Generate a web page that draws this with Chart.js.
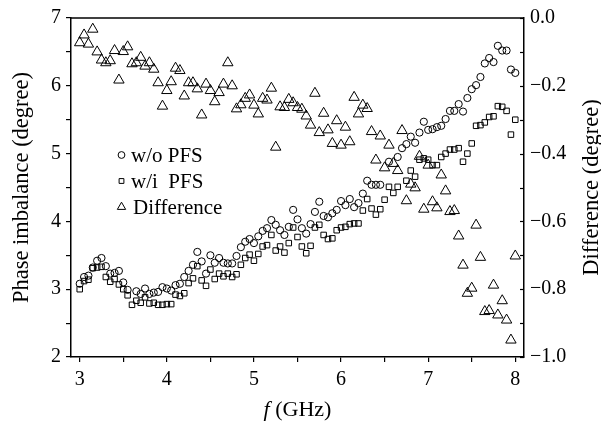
<!DOCTYPE html>
<html>
<head>
<meta charset="utf-8">
<script src="https://cdn.jsdelivr.net/npm/chart.js@4.4.0/dist/chart.umd.min.js"></script>
<style>
  html, body { margin: 0; padding: 0; background: #fff; }
  #wrap { width: 601px; height: 425px; }
</style>
</head>
<body>
<div id="wrap"><canvas id="myChart" width="601" height="425"></canvas></div>
<script>
// frequency grid (GHz)
const freq = [
  3.00, 3.05, 3.10, 3.15, 3.20, 3.25, 3.30, 3.35, 3.40, 3.45,
  3.50, 3.55, 3.60, 3.65, 3.70, 3.75, 3.80, 3.85, 3.90, 3.95,
  4.00, 4.05, 4.10, 4.15, 4.20, 4.25, 4.30, 4.35, 4.40, 4.45,
  4.50, 4.55, 4.60, 4.65, 4.70, 4.75, 4.80, 4.85, 4.90, 4.95,
  5.00, 5.05, 5.10, 5.15, 5.20, 5.25, 5.30, 5.35, 5.40, 5.45,
  5.50, 5.55, 5.60, 5.65, 5.70, 5.75, 5.80, 5.85, 5.90, 5.95,
  6.00, 6.05, 6.10, 6.15, 6.20, 6.25, 6.30, 6.35, 6.40, 6.45,
  6.50, 6.55, 6.60, 6.65, 6.70, 6.75, 6.80, 6.85, 6.90, 6.95,
  7.00, 7.05, 7.10, 7.15, 7.20, 7.25, 7.30, 7.35, 7.40, 7.45,
  7.50, 7.55, 7.60, 7.65, 7.70, 7.75, 7.80, 7.85, 7.90, 7.95, 8.00
];

// phase imbalance without PFS (degree)
const woPFS = [
  3.08, 3.18, 3.20, 3.32, 3.42, 3.46, 3.34, 3.23, 3.24, 3.27,
  3.10, 2.99, null, 2.97, 2.93, 3.01, 2.93, 2.95, 2.96, 3.03,
  3.01, 2.98, 3.06, 3.08, 3.18, 3.27, 3.36, 3.55, 3.41, 3.23,
  3.50, 3.39, 3.46, 3.39, 3.38, 3.38, 3.49, 3.62, 3.70, 3.74,
  3.68, 3.78, 3.86, 3.90, 4.02, 3.95, 3.87, 3.80, 3.92, 4.17,
  4.03, 3.90, 3.82, 3.96, 4.14, 4.29, 4.08, 4.06, 4.12, 4.17,
  4.30, 4.24, 4.33, 4.21, 4.27, 4.41, 4.60, 4.54, 4.54, 4.54,
  null, 4.88, null, 4.95, 5.08, 5.14, 5.25, 5.16, 5.31, 5.47,
  5.35, 5.36, 5.39, 5.41, 5.51, 5.63, 5.63, 5.73, 5.62, 5.82,
  5.95, 6.01, 6.13, 6.33, 6.41, 6.35, 6.59, 6.52, 6.52, 6.24, 6.19
];

// phase imbalance with PFS (degree)
const wiPFS = [
  3.00, 3.12, 3.14, 3.31, 3.32, 3.33, 3.18, 3.11, 3.15, 3.07,
  3.00, 2.91, 2.77, 2.83, 2.80, 2.88, 2.79, 2.80, 2.77, 2.77,
  2.78, 2.78, 2.92, 2.90, 2.94, 3.09, 3.16, 3.34, 3.13, 3.05,
  3.29, 3.15, 3.23, 3.19, 3.23, 3.18, 3.22, 3.36, 3.46, 3.51,
  3.42, 3.52, 3.63, 3.65, 3.80, 3.57, 3.63, 3.54, 3.68, 3.91,
  3.77, 3.63, 3.53, 3.64, 3.91, 3.95, 3.80, 3.74, 3.75, 3.87,
  3.91, 3.92, 3.96, 3.97, 3.97, 4.16, 4.33, 4.19, 4.10, 4.18,
  4.32, 4.51, 4.42, 4.51, null, 4.60, 4.75, 4.66, 4.91, 4.93,
  4.91, 4.83, 4.83, 4.95, 5.00, 5.06, 5.06, 5.08, 4.88, 5.00,
  5.15, 5.41, 5.42, 5.46, 5.54, 5.55, 5.70, 5.69, 5.63, 5.28, 5.50
];

// difference (degree), right axis
const diff = [
  -0.073, -0.050, -0.077, -0.033, -0.100, -0.124, -0.132, -0.126, -0.096, -0.183,
  -0.099, -0.085, -0.135, -0.132, -0.116, -0.142, -0.132, -0.151, -0.191, -0.260,
  -0.214, -0.188, -0.148, -0.155, -0.230, -0.191, -0.191, -0.209, -0.286, -0.195,
  -0.214, -0.247, -0.220, -0.195, -0.132, -0.200, -0.268, -0.256, -0.237, -0.227,
  -0.257, -0.283, -0.237, -0.242, -0.207, -0.381, -0.262, -0.264, -0.240, -0.250,
  -0.264, -0.269, -0.289, -0.316, -0.222, -0.338, -0.281, -0.330, -0.370, -0.303,
  -0.375, -0.322, -0.365, -0.234, -0.283, -0.257, -0.267, -0.335, -0.419, -0.348,
  -0.442, -0.375, -0.429, -0.450, -0.332, -0.539, -0.490, -0.501, -0.408, -0.564,
  -0.434, -0.542, -0.560, -0.463, -0.510, -0.571, -0.568, -0.643, -0.729, -0.812,
  -0.797, -0.611, -0.706, -0.866, -0.863, -0.788, -0.876, -0.834, -0.891, -0.950, -0.702
];

const seriesNames = ['w/o PFS', 'w/i  PFS', 'Difference'];
const xTitle = ['f', ' (GHz)'];
const yTitle = 'Phase imbalance (degree)';
const y2Title = 'Difference (degree)';

const serif = "'Liberation Serif', 'Times New Roman', serif";
Chart.defaults.font.family = serif;
Chart.defaults.font.size = 20;
Chart.defaults.color = '#000';

function pts(arr) {
  return freq.map((x, i) => ({ x: x, y: arr[i] })).filter(p => p.y !== null);
}

const markers = [
  { style: 'circle', radius: 3.6 },
  { style: 'rect', radius: 3.9 },
  { style: 'triangle', radius: 6 }
];

function ds(label, arr, m, axis) {
  return {
    label: label,
    data: pts(arr),
    yAxisID: axis,
    showLine: false,
    pointStyle: m.style,
    pointRadius: m.radius,
    pointBorderWidth: 1,
    pointBorderColor: '#000',
    pointBackgroundColor: 'rgba(0,0,0,0)'
  };
}

const axisLine = { display: true, color: '#000', width: 1.5 };
const tickGrid = { display: true, drawOnChartArea: false, drawTicks: true, tickLength: 5, color: '#000', lineWidth: 1.2 };

const decor = {
  id: 'decor',
  afterDraw(chart) {
    const { ctx, chartArea: a, scales } = chart;
    ctx.save();
    ctx.strokeStyle = '#000';
    ctx.lineWidth = 1.5;
    ctx.beginPath();
    ctx.moveTo(a.left, a.top);
    ctx.lineTo(a.right, a.top);
    ctx.stroke();

    // right axis ticks point inward
    ctx.lineWidth = 1.2;
    scales.y2.ticks.forEach(t => {
      const py = Math.round(scales.y2.getPixelForValue(t.value)) + 0.5;
      ctx.beginPath();
      ctx.moveTo(a.right, py);
      ctx.lineTo(a.right - 4, py);
      ctx.stroke();
    });

    // axis titles
    ctx.fillStyle = '#000';
    ctx.textBaseline = 'middle';
    ctx.textAlign = 'center';
    const midY = (a.top + a.bottom) / 2;
    ctx.font = '22.5px ' + serif;
    ctx.save();
    ctx.translate(22, midY);
    ctx.rotate(-Math.PI / 2);
    ctx.fillText(yTitle, 0, 0);
    ctx.restore();
    ctx.save();
    ctx.translate(592, midY);
    ctx.rotate(-Math.PI / 2);
    ctx.fillText(y2Title, 0, 0);
    ctx.restore();

    ctx.textAlign = 'left';
    ctx.font = 'italic 22px ' + serif;
    const w1 = ctx.measureText(xTitle[0]).width;
    ctx.font = '22px ' + serif;
    const w2 = ctx.measureText(xTitle[1]).width;
    const x0 = (a.left + a.right) / 2 - (w1 + w2) / 2;
    ctx.font = 'italic 22px ' + serif;
    ctx.fillText(xTitle[0], x0, 410);
    ctx.font = '22px ' + serif;
    ctx.fillText(xTitle[1], x0 + w1, 410);

    // legend
    const rows = [155, 181, 207];
    ctx.font = '21px ' + serif;
    ctx.lineWidth = 1;
    seriesNames.forEach((name, i) => {
      ctx.fillStyle = 'rgba(0,0,0,0)';
      ctx.strokeStyle = '#000';
      Chart.helpers.drawPoint(ctx, { pointStyle: markers[i].style, radius: i === 2 ? 4.8 : 3.4, borderWidth: 1, rotation: 0 }, 121.5, rows[i]);
      ctx.fillStyle = '#000';
      ctx.fillText(name, i === 2 ? 133 : 131, rows[i] + 1);
    });
    ctx.restore();
  }
};

const ctx = document.getElementById('myChart').getContext('2d');
const chart = new Chart(ctx, {
  type: 'scatter',
  data: {
    datasets: [
      ds(seriesNames[0], woPFS, markers[0], 'y'),
      ds(seriesNames[1], wiPFS, markers[1], 'y'),
      ds(seriesNames[2], diff, markers[2], 'y2')
    ]
  },
  options: {
    responsive: false,
    animation: false,
    events: [],
    layout: { padding: { top: 18, left: 0, right: 0, bottom: 0 } },
    plugins: { legend: { display: false }, tooltip: { enabled: false } },
    scales: {
      x: {
        type: 'linear',
        position: 'bottom',
        min: 2.9,
        max: 8.1,
        grid: tickGrid,
        border: axisLine,
        ticks: {
          stepSize: 0.5,
          includeBounds: false,
          autoSkip: false,
          maxRotation: 0,
          padding: 6,
          callback: v => Number.isInteger(v) ? String(v) : ''
        },
        afterFit: s => { s.height = 68; }
      },
      y: {
        type: 'linear',
        position: 'left',
        min: 2,
        max: 7,
        grid: tickGrid,
        border: axisLine,
        ticks: {
          stepSize: 0.5,
          autoSkip: false,
          padding: 5,
          callback: v => Number.isInteger(v) ? String(v) : ''
        },
        afterFit: s => { s.width = 71; }
      },
      y2: {
        type: 'linear',
        position: 'right',
        min: -1,
        max: 0,
        grid: { display: true, drawOnChartArea: false, drawTicks: false, color: '#000' },
        border: axisLine,
        ticks: {
          stepSize: 0.1,
          autoSkip: false,
          padding: 6,
          callback: v => {
            const r = Math.round(v * 10);
            if (r % 2 !== 0) return '';
            return r === 0 ? '0.0' : '\u2212' + (Math.abs(r) / 10).toFixed(1);
          }
        },
        afterFit: s => { s.width = 77; }
      }
    }
  },
  plugins: [decor]
});
</script>
</body>
</html>
